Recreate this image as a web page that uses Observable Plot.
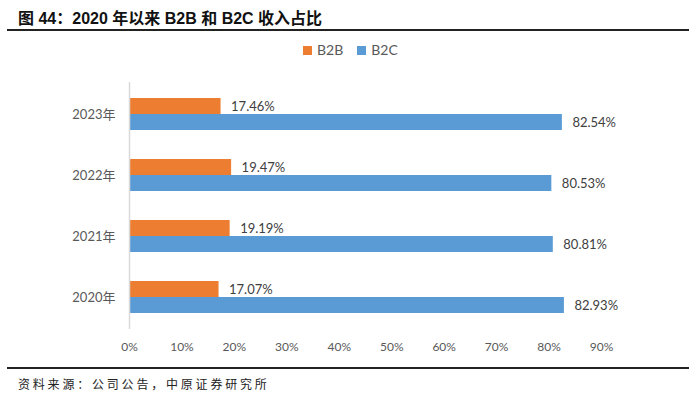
<!DOCTYPE html>
<html>
<head>
<meta charset="utf-8">
<script src="https://cdn.jsdelivr.net/npm/d3@7"></script>
<script src="https://cdn.jsdelivr.net/npm/@observablehq/plot@0.6"></script>
<style>
  html, body { margin: 0; padding: 0; background: #fff; }
  #wrap { position: relative; width: 700px; height: 395px; overflow: hidden; font-family: Lato, "Noto Sans CJK SC", sans-serif; }
  #title { position: absolute; left: 18px; top: 5px; font-family: "Liberation Sans", "Noto Sans CJK SC", sans-serif; font-weight: bold; font-size: 16px; color: #111; white-space: nowrap; }
  .hline { position: absolute; left: 7px; width: 682px; height: 2px; background: #222; }
  #legend { position: absolute; top: 41px; left: 303px; font-size: 14px; color: #595959; white-space: nowrap; }
  #legend span.sw { display: inline-block; width: 9px; height: 9px; vertical-align: 0px; margin-right: 5px; }
  #legend span.item { margin-right: 14px; }
  #chart { position: absolute; left: 0; top: 60px; }
  #source { position: absolute; left: 18px; top: 375px; font-family: "Noto Sans CJK SC", sans-serif; font-size: 12px; color: #222; letter-spacing: 2.8px; white-space: nowrap; }
</style>
</head>
<body>
<div id="wrap">
  <div id="title">图 44：2020 年以来 B2B 和 B2C 收入占比</div>
  <div class="hline" style="top:29px"></div>
  <div id="legend"></div>
  <div id="chart"></div>
  <div class="hline" style="top:367px"></div>
  <div id="source">资料来源：公司公告，中原证券研究所</div>
</div>
<script>
const years = ["2023年", "2022年", "2021年", "2020年"];
const b2b = [17.46, 19.47, 19.19, 17.07];
const b2c = [82.54, 80.53, 80.81, 82.93];
const seriesNames = ["B2B", "B2C"];
const seriesColors = ["#ED7D31", "#5B9BD5"];
const xTicks = [0, 10, 20, 30, 40, 50, 60, 70, 80, 90];

const rowsB2B = years.map((y, i) => ({year: y, value: b2b[i]}));
const rowsB2C = years.map((y, i) => ({year: y, value: b2c[i]}));

const legend = document.getElementById("legend");
seriesNames.forEach((n, i) => {
  const it = document.createElement("span");
  it.className = "item";
  it.innerHTML = `<span class="sw" style="background:${seriesColors[i]}"></span>${n}`;
  legend.appendChild(it);
});

const chart = Plot.plot({
  width: 700,
  height: 300,
  marginTop: 22,
  marginBottom: 31,
  marginLeft: 129,
  marginRight: 99,
  style: {fontFamily: 'Lato, "Noto Sans CJK SC", sans-serif', color: "#595959", background: "#fff"},
  x: {domain: [0, 90], ticks: xTicks, tickFormat: d => d + "%"},
  y: {domain: years, paddingInner: 0.48, paddingOuter: 0.24},
  marks: [
    Plot.barX(rowsB2B, {x: "value", y: "year", fill: seriesColors[0], insetBottom: 16}),
    Plot.barX(rowsB2C, {x: "value", y: "year", fill: seriesColors[1], insetTop: 16}),
    Plot.ruleX([0], {stroke: "#d9d9d9", strokeWidth: 1.5}),
    Plot.text(rowsB2B, {x: "value", y: "year", text: d => d.value.toFixed(2) + "%", dx: 10, dy: -8, textAnchor: "start", fill: "#404040", fontSize: 13}),
    Plot.text(rowsB2C, {x: "value", y: "year", text: d => d.value.toFixed(2) + "%", dx: 10, dy: 8, textAnchor: "start", fill: "#404040", fontSize: 13}),
    Plot.axisX({ticks: xTicks, tickFormat: d => d + "%", tickSize: 0, tickPadding: 13, fontSize: 12, label: null, fill: "#595959"}),
    Plot.axisY({tickSize: 0, tickPadding: 14, fontSize: 13, label: null, fill: "#595959"})
  ]
});
document.getElementById("chart").appendChild(chart);
</script>
</body>
</html>
